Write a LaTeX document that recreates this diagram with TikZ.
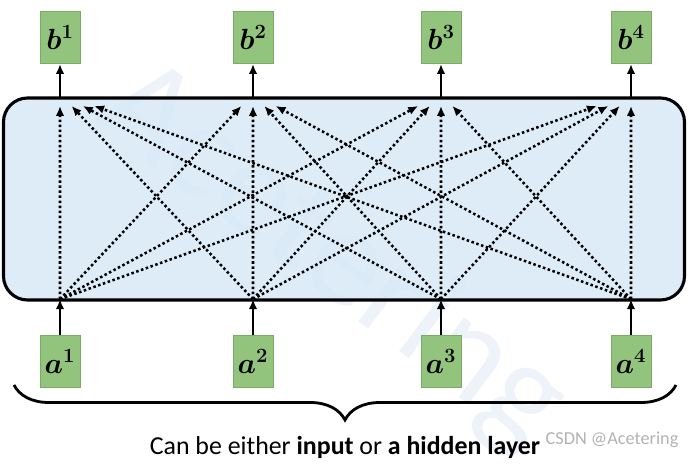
\documentclass[tikz,border=0pt]{standalone}
\usepackage{amsmath}
\usepackage{bm}
\usepackage{fontspec}
\setmainfont{Carlito}
\usetikzlibrary{decorations.pathreplacing}
\usetikzlibrary{arrows.meta}
\usetikzlibrary{calc}
\definecolor{green1}{RGB}{147, 196, 125}
\definecolor{green2}{RGB}{122, 170, 102}
\definecolor{blue1}{RGB}{216, 233, 247}
\definecolor{blue2}{RGB}{120, 165, 215}

\begin{document}
\begin{tikzpicture}[line width=2pt,
  unit/.style={rectangle, fill=green1, draw=green2, line width=0.6pt, minimum width=1cm, minimum height=1.3cm, inner sep=0pt, font=\fontsize{22}{24}\selectfont},
  link/.style={line width=1.8pt, dash pattern=on 1.8pt off 1.8pt, -{Latex[length=7pt,width=6pt]}}]
  \useasboundingbox (0,0) rectangle (17.225,11.6);
  \node[text=blue2, opacity=0.13, rotate=-37, font=\fontsize{100}{110}\selectfont] (wm) at (8.3,5.2) {Acetering};
  \node[draw, line width=2.2pt, rounded corners=0.6cm, fill=blue1, fill opacity=0.85, minimum width=17.025cm, minimum height=5.05cm] (layer) at (8.6,6.625) {};
  \foreach \i/\x in {1/1.5, 2/6.325, 3/11.025, 4/15.775} {
    \node[unit] (b\i) at (\x,10.66) {$\bm{b}^{\bm{\i}}$};
    \node[unit] (a\i) at (\x,2.56) {$\bm{a}^{\bm{\i}}$};
    \coordinate (in\i) at (\x,4.12);
    \coordinate (out\i) at (\x,9.15);
    \draw[-{Latex[length=7pt,width=6pt]}] (a\i) -- (in\i);
    \draw[-{Latex[length=7pt,width=6pt]}] (out\i) -- (b\i);
  }
  \foreach \i in {1,...,4}
   \foreach \j in {1,...,4}
    \draw[link] (in\i) -- ($(out\j)!0.06!(out\i) + (0,-0.2)$);
  \draw [decorate,decoration={brace,amplitude=0.875cm,mirror}]
  (0.35,1.975) -- (16.9,1.975) node (cap) [midway,yshift=-1.55cm,font=\fontsize{18.4}{21}\selectfont]{Can be either \textbf{input} or \textbf{a hidden layer}};
  \node[text=gray!60, font=\fontsize{13}{15}\selectfont] (mark) at (15.3,0.6) {CSDN @Acetering};
\end{tikzpicture}
\end{document}
